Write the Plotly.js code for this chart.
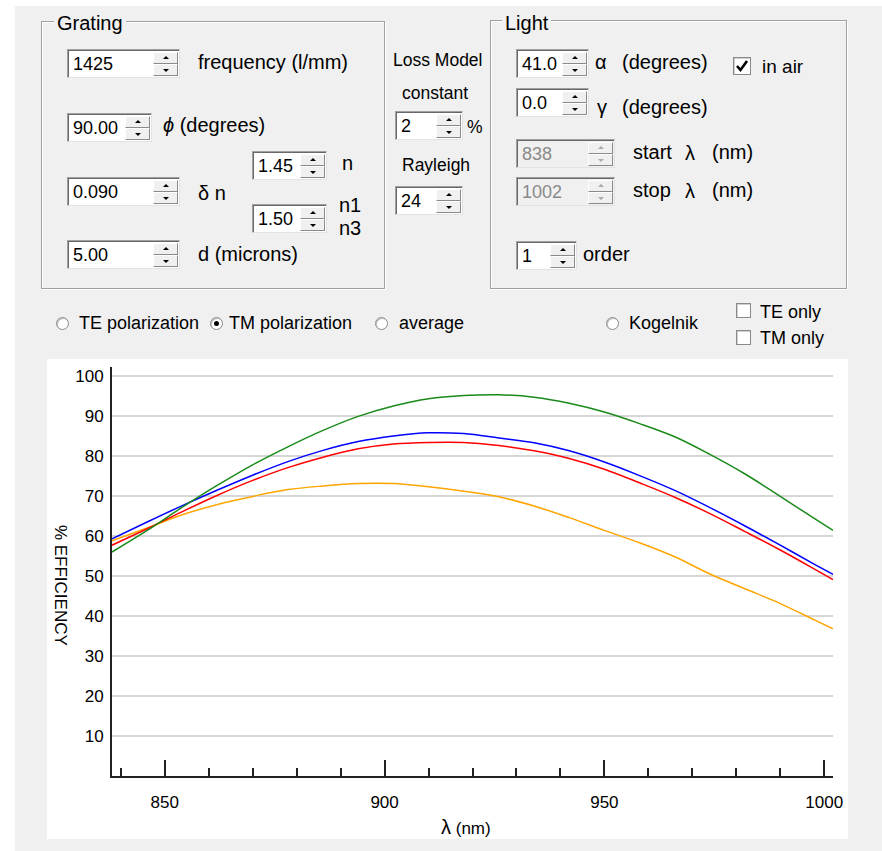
<!DOCTYPE html>
<html>
<head>
<meta charset="utf-8">
<script src="https://cdn.plot.ly/plotly-3.0.1.min.js"></script>
<style>
html,body{margin:0;padding:0;background:#fff;width:882px;height:851px;overflow:hidden;font-family:"Liberation Sans",Arial,sans-serif;color:#000}
#form{position:absolute;left:15px;top:6px;width:867px;height:845px;background:#f0f0f0}
.grp{position:absolute;border:1px solid #a0a0a0;box-shadow:inset 1px 1px 0 #fff,1px 1px 0 #fff;box-sizing:border-box}
.gtitle{position:absolute;background:#f0f0f0;padding:0 3px;font-size:20px;line-height:22px;white-space:nowrap}
.lbl{position:absolute;font-size:20px;line-height:24px;white-space:nowrap}
.lbls{position:absolute;font-size:17.5px;line-height:22px;white-space:nowrap}
.spin{position:absolute;background:#fff;border:1px solid;border-color:#a0a0a0 #e3e3e3 #e3e3e3 #a0a0a0;box-shadow:inset 1px 1px 0 #696969;box-sizing:border-box}
.spin.dis{background:#f0f0f0}
.val{position:absolute;left:5px;top:50%;transform:translateY(-50%);font-size:18px;line-height:20px}
.spin.dis .val{color:#8a8a8a}
.btns{position:absolute;right:1px;top:2px;bottom:1px;width:25px}
.bt{position:relative;height:50%;box-sizing:border-box;background:#f0f0f0;border:1px solid;border-color:#fff #8a8a8a #8a8a8a #fff}
.bt:after{content:"";position:absolute;left:50%;top:50%;margin-left:-3px;border-left:3px solid transparent;border-right:3px solid transparent}
.up:after{margin-top:-2px;border-bottom:3px solid #000}
.dn:after{margin-top:-1px;border-top:3px solid #000}
.spin.dis .up:after{border-bottom-color:#aaa}
.spin.dis .dn:after{border-top-color:#aaa}
.radio{position:absolute;width:13px;height:13px;border-radius:50%;border:1px solid #8a8a8a;background:#fff;box-sizing:border-box;box-shadow:inset 1px 1px 0 #c0c0c0}
.radio.on:after{content:"";position:absolute;left:3px;top:3px;width:5px;height:5px;border-radius:50%;background:#000}
.chk{position:absolute;border:1px solid #8a8a8a;background:#fff;box-sizing:border-box;box-shadow:inset 1px 1px 0 #d0d0d0}
.rl{position:absolute;font-size:18px;line-height:22px;white-space:nowrap}
#chart{position:absolute;left:47px;top:359px;width:801px;height:480px;background:#fff}
</style>
</head>
<body>
<div id="form"></div>

<!-- Grating group -->
<div class="grp" style="left:41px;top:21px;width:344px;height:268px"></div>
<div class="gtitle" style="left:54px;top:12px">Grating</div>

<div class="spin" style="left:67px;top:49px;width:113px;height:29px"><span class="val">1425</span><div class="btns"><div class="bt up"></div><div class="bt dn"></div></div></div>
<div class="lbl" style="left:198px;top:50px">frequency (l/mm)</div>

<div class="spin" style="left:67px;top:113px;width:85px;height:29px"><span class="val">90.00</span><div class="btns"><div class="bt up"></div><div class="bt dn"></div></div></div>
<div class="lbl" style="left:163px;top:113px"><i>ϕ</i> (degrees)</div>

<div class="spin" style="left:67px;top:177px;width:113px;height:29px"><span class="val">0.090</span><div class="btns"><div class="bt up"></div><div class="bt dn"></div></div></div>
<div class="lbl" style="left:198px;top:181px">δ n</div>

<div class="spin" style="left:252px;top:151px;width:75px;height:29px"><span class="val">1.45</span><div class="btns"><div class="bt up"></div><div class="bt dn"></div></div></div>
<div class="lbl" style="left:342px;top:151px">n</div>

<div class="spin" style="left:252px;top:204px;width:75px;height:29px"><span class="val">1.50</span><div class="btns"><div class="bt up"></div><div class="bt dn"></div></div></div>
<div class="lbl" style="left:339px;top:193px">n1</div>
<div class="lbl" style="left:339px;top:216px">n3</div>

<div class="spin" style="left:67px;top:240px;width:113px;height:29px"><span class="val">5.00</span><div class="btns"><div class="bt up"></div><div class="bt dn"></div></div></div>
<div class="lbl" style="left:198px;top:242px">d (microns)</div>

<!-- Loss model column -->
<div class="lbls" style="left:393px;top:49px">Loss Model</div>
<div class="lbls" style="left:402px;top:82px">constant</div>
<div class="spin" style="left:395px;top:111px;width:68px;height:29px"><span class="val">2</span><div class="btns"><div class="bt up"></div><div class="bt dn"></div></div></div>
<div class="lbls" style="left:467px;top:116px">%</div>
<div class="lbls" style="left:402px;top:154px">Rayleigh</div>
<div class="spin" style="left:395px;top:186px;width:68px;height:29px"><span class="val">24</span><div class="btns"><div class="bt up"></div><div class="bt dn"></div></div></div>

<!-- Light group -->
<div class="grp" style="left:490px;top:20px;width:357px;height:269px"></div>
<div class="gtitle" style="left:502px;top:12px">Light</div>

<div class="spin" style="left:516px;top:49px;width:73px;height:29px"><span class="val">41.0</span><div class="btns"><div class="bt up"></div><div class="bt dn"></div></div></div>
<div class="lbl" style="left:595px;top:50px">α</div>
<div class="lbl" style="left:622px;top:50px">(degrees)</div>
<div class="chk" style="left:733px;top:57px;width:18px;height:18px"><svg width="16" height="16" style="position:absolute;left:0;top:0"><path d="M3 8 L6.5 12 L13 3" stroke="#000" stroke-width="2.6" fill="none"/></svg></div>
<div class="lbl" style="left:762px;top:55px;font-size:19px">in air</div>

<div class="spin" style="left:516px;top:88px;width:73px;height:29px"><span class="val">0.0</span><div class="btns"><div class="bt up"></div><div class="bt dn"></div></div></div>
<div class="lbl" style="left:597px;top:95px">γ</div>
<div class="lbl" style="left:622px;top:95px">(degrees)</div>

<div class="spin dis" style="left:516px;top:139px;width:99px;height:29px"><span class="val">838</span><div class="btns"><div class="bt up"></div><div class="bt dn"></div></div></div>
<div class="lbl" style="left:633px;top:140px">start</div>
<div class="lbl" style="left:685px;top:141px">λ</div>
<div class="lbl" style="left:712px;top:140px">(nm)</div>

<div class="spin dis" style="left:516px;top:177px;width:99px;height:29px"><span class="val">1002</span><div class="btns"><div class="bt up"></div><div class="bt dn"></div></div></div>
<div class="lbl" style="left:633px;top:178px">stop</div>
<div class="lbl" style="left:685px;top:179px">λ</div>
<div class="lbl" style="left:712px;top:178px">(nm)</div>

<div class="spin" style="left:516px;top:241px;width:61px;height:29px"><span class="val">1</span><div class="btns"><div class="bt up"></div><div class="bt dn"></div></div></div>
<div class="lbl" style="left:583px;top:242px">order</div>

<!-- radio row -->
<div class="radio" style="left:56px;top:317px"></div>
<div class="rl" style="left:79px;top:312px">TE polarization</div>
<div class="radio on" style="left:210px;top:317px"></div>
<div class="rl" style="left:229px;top:312px">TM polarization</div>
<div class="radio" style="left:375px;top:317px"></div>
<div class="rl" style="left:399px;top:312px">average</div>
<div class="radio" style="left:606px;top:317px"></div>
<div class="rl" style="left:629px;top:312px">Kogelnik</div>
<div class="chk" style="left:736px;top:303px;width:15px;height:15px"></div>
<div class="rl" style="left:760px;top:301px">TE only</div>
<div class="chk" style="left:736px;top:330px;width:15px;height:15px"></div>
<div class="rl" style="left:760px;top:327px">TM only</div>

<div id="chart"></div>

<script>
// wavelength (nm)
const lambda = [838, 846, 854, 862, 870, 878, 886, 894, 902, 910, 918, 926, 934, 942, 950, 958, 966, 974, 982, 990, 998, 1002];
// % efficiency curves
const effGreen  = [56.0, 61.4, 67.2, 72.7, 77.8, 82.3, 86.4, 89.9, 92.5, 94.3, 95.1, 95.3, 94.7, 93.2, 91.0, 88.1, 84.8, 80.4, 75.5, 69.9, 64.2, 61.4];
const effBlue   = [59.3, 63.5, 67.6, 71.5, 75.2, 78.6, 81.4, 83.6, 85.0, 85.8, 85.6, 84.5, 83.3, 81.3, 78.5, 75.1, 71.4, 67.1, 62.5, 57.7, 52.8, 50.4];
const effRed    = [57.7, 61.8, 66.1, 70.2, 73.9, 77.1, 79.7, 81.8, 83.0, 83.4, 83.4, 82.6, 81.3, 79.4, 76.7, 73.3, 69.7, 65.6, 61.1, 56.5, 51.6, 49.1];
const effOrange = [58.8, 62.0, 65.3, 67.9, 69.9, 71.6, 72.5, 73.1, 73.1, 72.3, 71.2, 69.8, 67.5, 64.6, 61.4, 58.3, 54.8, 50.5, 46.8, 43.1, 38.9, 36.8];
// axis ticks
const xTicks = [850, 900, 950, 1000];
const xTickLabels = ["850", "900", "950", "1000"];
const yTicks = [10, 20, 30, 40, 50, 60, 70, 80, 90, 100];
const yTickLabels = ["10", "20", "30", "40", "50", "60", "70", "80", "90", "100"];

const mk = (y, c) => ({x: lambda, y: y, type: 'scatter', mode: 'lines',
  line: {color: c, width: 1.5, shape: 'spline', smoothing: 1}, hoverinfo: 'skip'});

const data = [
  mk(effOrange, '#ffa500'),
  mk(effRed, '#ff0000'),
  mk(effBlue, '#0000ff'),
  mk(effGreen, '#1a8a1a')
];

const layout = {
  width: 801, height: 480,
  margin: {l: 65, r: 15, t: 8, b: 63},
  paper_bgcolor: '#ffffff', plot_bgcolor: '#ffffff',
  showlegend: false,
  font: {family: '"Liberation Sans", Arial, sans-serif', size: 17, color: '#000'},
  xaxis: {
    range: [838, 1002], tickmode: 'array', tickvals: xTicks, ticktext: xTickLabels,
    ticks: 'inside', ticklen: 16, tickwidth: 2, tickcolor: '#222',
    showline: true, linewidth: 2, linecolor: '#222', showgrid: false, zeroline: false,
    ticklabelstandoff: 10,
    minor: {dtick: 10, tick0: 0, ticks: 'inside', ticklen: 8, tickwidth: 2, tickcolor: '#222', showgrid: false}
  },
  yaxis: {
    range: [0, 102.25], tickmode: 'array', tickvals: yTicks, ticktext: yTickLabels,
    ticks: '', showline: true, linewidth: 2, linecolor: '#222',
    showgrid: true, gridcolor: '#d6d6d6', gridwidth: 1.5, zeroline: false,
    ticklabelstandoff: 3
  },
  annotations: [
    {text: '<span style="font-size:20px">λ</span> (nm)', xref: 'paper', yref: 'paper', x: 0.491, y: -0.125,
     xanchor: 'center', yanchor: 'middle', showarrow: false, font: {size: 17}},
    {text: '% EFFICIENCY', xref: 'paper', yref: 'paper', x: -0.072, y: 0.467, textangle: 90,
     xanchor: 'center', yanchor: 'middle', showarrow: false, font: {size: 17}}
  ]
};

Plotly.newPlot('chart', data, layout, {displayModeBar: false, staticPlot: true});
</script>
</body>
</html>
